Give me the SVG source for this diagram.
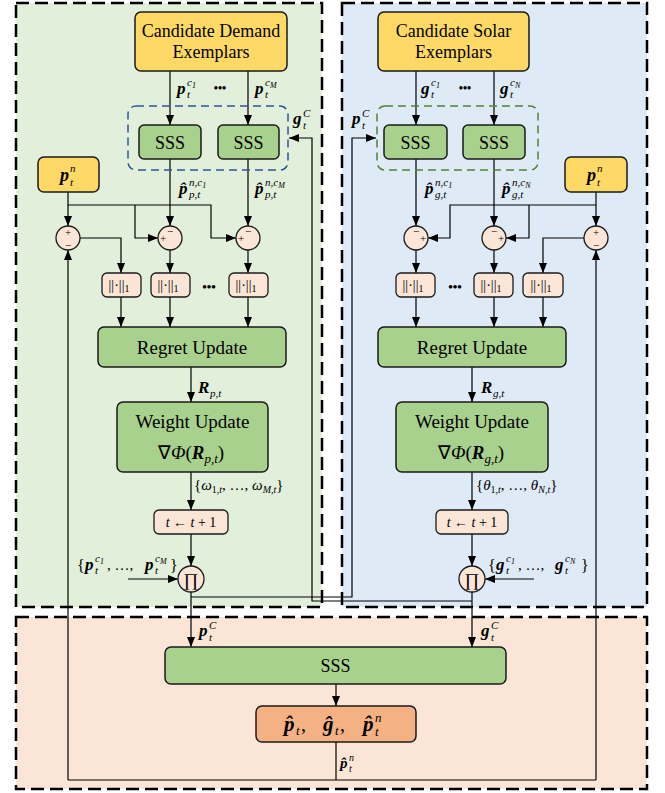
<svg xmlns="http://www.w3.org/2000/svg" width="665" height="793" viewBox="0 0 665 793" font-family="Liberation Serif, Times New Roman, serif">
<style>
text{font-family:'Liberation Serif','Times New Roman',serif;fill:#000}
.bi{font-weight:bold;font-style:italic}
.i{font-style:italic}
.pg{fill:#e2efda;stroke:#000;stroke-width:2.5;stroke-dasharray:13 6}
.pb{fill:#deeaf6;stroke:#000;stroke-width:2.5;stroke-dasharray:13 6}
.po{fill:#fbe5d6;stroke:#000;stroke-width:2.5;stroke-dasharray:13 6}
.yel{fill:#ffd966;stroke:#1a1a1a;stroke-width:1.5}
.grn{fill:#a9d18e;stroke:#1a1a1a;stroke-width:1.5}
.pch{fill:#fbe5d6;stroke:#1a1a1a;stroke-width:1.3}
.res{fill:#f4b183;stroke:#1a1a1a;stroke-width:1.5}
.dbl{fill:none;stroke:#2f5597;stroke-width:1.5;stroke-dasharray:8 5}
.dgr{fill:none;stroke:#548235;stroke-width:1.5;stroke-dasharray:8 5}
.w{fill:none;stroke:#000;stroke-width:1.2}
.wa{fill:none;stroke:#000;stroke-width:1.2;marker-end:url(#ah)}
.c{text-anchor:middle}
.sg{font-size:11px;text-anchor:middle}
</style>
<defs>
<marker id="ah" viewBox="0 0 10 8" refX="10" refY="4" markerWidth="10" markerHeight="8" markerUnits="userSpaceOnUse" orient="auto"><path d="M0,0 L10,4 L0,8 z" fill="#000"/></marker>
</defs>

<g id="panels">
<rect x="16" y="3" width="306" height="604" class="pg"/>
<rect x="342" y="3" width="305" height="604" class="pb"/>
<rect x="16" y="617" width="631" height="172" class="po"/>
</g>

<g id="connectors">
<path class="wa" d="M170,71 V125"/>
<path class="wa" d="M248,71 V125"/>
<path class="wa" d="M170,159 V226"/>
<path class="wa" d="M248,159 V226"/>
<path class="wa" d="M68,192 V226"/>
<path class="wa" d="M68,205 H211 V238 H236"/>
<path class="wa" d="M135,205 V238 H158"/>
<path class="wa" d="M80,238 H121 V273"/>
<path class="wa" d="M170,250 V273"/>
<path class="wa" d="M248,250 V273"/>
<path class="wa" d="M121,297 V327"/>
<path class="wa" d="M170,297 V327"/>
<path class="wa" d="M248,297 V327"/>
<path class="wa" d="M191,367 V402"/>
<path class="wa" d="M191,472 V510"/>
<path class="wa" d="M191,534 V566"/>
<path class="wa" d="M128,579 H178"/>
<path class="wa" d="M191,592 V647"/>
<path class="wa" d="M191,597 H352 V138 H376"/>
<path class="wa" d="M416,71 V125"/>
<path class="wa" d="M494,71 V125"/>
<path class="wa" d="M416,159 V226"/>
<path class="wa" d="M494,159 V226"/>
<path class="wa" d="M596,192 V226"/>
<path class="wa" d="M596,205 H450 V238 H428"/>
<path class="wa" d="M529,205 V238 H506"/>
<path class="wa" d="M584,238 H543 V273"/>
<path class="wa" d="M416,250 V273"/>
<path class="wa" d="M494,250 V273"/>
<path class="wa" d="M416,297 V327"/>
<path class="wa" d="M494,297 V327"/>
<path class="wa" d="M543,297 V327"/>
<path class="wa" d="M472,367 V402"/>
<path class="wa" d="M472,472 V510"/>
<path class="wa" d="M472,534 V566"/>
<path class="wa" d="M534,579 H485"/>
<path class="wa" d="M472,592 V647"/>
<path class="wa" d="M472,601 H312 V138 H289"/>
<path class="wa" d="M336,684 V706"/>
<path class="w" d="M336,742 V780 M68,780 H596"/>
<path class="wa" d="M68,780 V250"/>
<path class="wa" d="M596,780 V250"/>
</g>

<g id="cand-demand">
<rect x="135" y="12" width="152" height="59" rx="6" class="yel"/>
<text x="211" y="37" class="c" font-size="18">Candidate Demand</text>
<text x="211" y="58" class="c" font-size="18">Exemplars</text>
</g>
<g id="dash-left"><rect x="128" y="106" width="160" height="64" rx="8" class="dbl"/></g>
<g id="sss-l1"><rect x="139" y="125" width="62" height="34" rx="5" class="grn"/><text x="170" y="148.5" class="c" font-size="18">SSS</text></g>
<g id="sss-l2"><rect x="218" y="125" width="61" height="34" rx="5" class="grn"/><text x="248.5" y="148.5" class="c" font-size="18">SSS</text></g>
<g id="pn-left"><rect x="38" y="157" width="61" height="35" rx="6" class="yel"/>
<text x="60" y="181" class="bi" font-size="18">p</text><text x="70" y="172" class="i" font-size="11">n</text><text x="70" y="186" class="i" font-size="11">t</text></g>
<g id="sum-l1"><circle cx="68" cy="238" r="12" class="pch"/><text x="68" y="236" class="sg">+</text><text x="68" y="249" class="sg">−</text></g>
<g id="sum-l2"><circle cx="170" cy="238" r="12" class="pch"/><text x="170" y="235" class="sg">−</text><text x="163" y="242" class="sg">+</text></g>
<g id="sum-l3"><circle cx="248" cy="238" r="12" class="pch"/><text x="248" y="235" class="sg">−</text><text x="241" y="242" class="sg">+</text></g>
<g id="norm-l1"><rect x="102" y="273" width="39" height="24" rx="5" class="pch"/><text x="119" y="290" class="c" font-size="14">||·||<tspan font-size="10" dy="2">1</tspan></text></g>
<g id="norm-l2"><rect x="151" y="273" width="39" height="24" rx="5" class="pch"/><text x="168" y="290" class="c" font-size="14">||·||<tspan font-size="10" dy="2">1</tspan></text></g>
<g id="norm-l3"><rect x="229" y="273" width="39" height="24" rx="5" class="pch"/><text x="246" y="290" class="c" font-size="14">||·||<tspan font-size="10" dy="2">1</tspan></text></g>
<text x="209" y="291" class="c" font-size="13" font-weight="bold">•••</text>
<g id="regret-l"><rect x="98" y="327" width="188" height="40" rx="6" class="grn"/><text x="192" y="353.5" class="c" font-size="19">Regret Update</text></g>
<g id="weight-l"><rect x="117" y="402" width="151" height="70" rx="6" class="grn"/>
<text x="192.5" y="428" class="c" font-size="19">Weight Update</text>
<text x="191" y="459" class="c" font-size="19">∇<tspan class="i">Φ</tspan>(<tspan class="bi">R</tspan><tspan class="i" font-size="13" dy="4">p,t</tspan><tspan dy="-4">)</tspan></text></g>
<g id="tick-l"><rect x="154" y="510" width="74" height="24" rx="5" class="pch"/><text x="191" y="527" class="c" font-size="14"><tspan class="i">t</tspan> ← <tspan class="i">t</tspan> + 1</text></g>
<g id="prod-l"><circle cx="191" cy="579" r="13" class="pch"/><text x="191" y="586" class="c" font-size="18" fill="#444">∏</text></g>

<g id="cand-solar">
<rect x="378" y="12" width="151" height="59" rx="6" class="yel"/>
<text x="453.5" y="37" class="c" font-size="18">Candidate Solar</text>
<text x="453.5" y="58" class="c" font-size="18">Exemplars</text>
</g>
<g id="dash-right"><rect x="377" y="106" width="161" height="64" rx="8" class="dgr"/></g>
<g id="sss-r1"><rect x="384" y="125" width="63" height="34" rx="5" class="grn"/><text x="415.5" y="148.5" class="c" font-size="18">SSS</text></g>
<g id="sss-r2"><rect x="463" y="125" width="62" height="34" rx="5" class="grn"/><text x="494" y="148.5" class="c" font-size="18">SSS</text></g>
<g id="pn-right"><rect x="565" y="157" width="62" height="35" rx="6" class="yel"/>
<text x="587" y="181" class="bi" font-size="18">p</text><text x="597" y="172" class="i" font-size="11">n</text><text x="597" y="186" class="i" font-size="11">t</text></g>
<g id="sum-r1"><circle cx="416" cy="238" r="12" class="pch"/><text x="416" y="235" class="sg">−</text><text x="423" y="242" class="sg">+</text></g>
<g id="sum-r2"><circle cx="494" cy="238" r="12" class="pch"/><text x="494" y="235" class="sg">−</text><text x="501" y="242" class="sg">+</text></g>
<g id="sum-r3"><circle cx="596" cy="238" r="12" class="pch"/><text x="596" y="236" class="sg">+</text><text x="596" y="249" class="sg">−</text></g>
<g id="norm-r1"><rect x="396" y="273" width="39" height="24" rx="5" class="pch"/><text x="413" y="290" class="c" font-size="14">||·||<tspan font-size="10" dy="2">1</tspan></text></g>
<g id="norm-r2"><rect x="474" y="273" width="39" height="24" rx="5" class="pch"/><text x="491" y="290" class="c" font-size="14">||·||<tspan font-size="10" dy="2">1</tspan></text></g>
<g id="norm-r3"><rect x="523" y="273" width="40" height="24" rx="5" class="pch"/><text x="541" y="290" class="c" font-size="14">||·||<tspan font-size="10" dy="2">1</tspan></text></g>
<text x="455" y="291" class="c" font-size="13" font-weight="bold">•••</text>
<g id="regret-r"><rect x="378" y="327" width="188" height="40" rx="6" class="grn"/><text x="472" y="353.5" class="c" font-size="19">Regret Update</text></g>
<g id="weight-r"><rect x="396" y="402" width="152" height="70" rx="6" class="grn"/>
<text x="472" y="428" class="c" font-size="19">Weight Update</text>
<text x="471" y="459" class="c" font-size="19">∇<tspan class="i">Φ</tspan>(<tspan class="bi">R</tspan><tspan class="i" font-size="13" dy="4">g,t</tspan><tspan dy="-4">)</tspan></text></g>
<g id="tick-r"><rect x="436" y="510" width="72" height="24" rx="5" class="pch"/><text x="472" y="527" class="c" font-size="14"><tspan class="i">t</tspan> ← <tspan class="i">t</tspan> + 1</text></g>
<g id="prod-r"><circle cx="472" cy="579" r="13" class="pch"/><text x="472" y="586" class="c" font-size="18" fill="#444">∏</text></g>

<g id="sss-bottom"><rect x="165" y="647" width="341" height="37" rx="6" class="grn"/><text x="335.5" y="672" class="c" font-size="18">SSS</text></g>
<g id="result"><rect x="256" y="706" width="160" height="36" rx="6" class="res"/>
<text x="284" y="731" class="bi" font-size="21">p̂</text><text x="296" y="735" class="i" font-size="13">t</text><text x="301" y="731" font-size="20">,</text>
<text x="323" y="731" class="bi" font-size="21">ĝ</text><text x="335" y="735" class="i" font-size="13">t</text><text x="340" y="731" font-size="20">,</text>
<text x="363" y="731" class="bi" font-size="21">p̂</text><text x="375" y="722" class="i" font-size="13">n</text><text x="375" y="736" class="i" font-size="13">t</text></g>

<g id="labels">
<text x="177" y="94" class="bi" font-size="17">p</text><text x="187" y="86" class="i" font-size="11">c<tspan font-size="8" dy="2">1</tspan></text><text x="187" y="98" class="i" font-size="11">t</text>
<text x="220" y="92" class="c" font-size="12" font-weight="bold">•••</text>
<text x="255" y="94" class="bi" font-size="17">p</text><text x="265" y="86" class="i" font-size="11">c<tspan font-size="8" dy="2">M</tspan></text><text x="265" y="98" class="i" font-size="11">t</text>
<text x="293" y="124" class="bi" font-size="17">g</text><text x="303" y="117" class="i" font-size="11">C</text><text x="303" y="129" class="i" font-size="11">t</text>
<text x="179" y="194" class="bi" font-size="17">p̂</text><text x="189" y="186" class="i" font-size="11">n,c<tspan font-size="8" dy="2">1</tspan></text><text x="189" y="198" class="i" font-size="11">p,t</text>
<text x="255" y="194" class="bi" font-size="17">p̂</text><text x="265" y="186" class="i" font-size="11">n,c<tspan font-size="8" dy="2">M</tspan></text><text x="265" y="198" class="i" font-size="11">p,t</text>
<text x="198" y="393" class="bi" font-size="17">R</text><text x="210" y="397" class="i" font-size="11">p,t</text>
<text x="194" y="490" font-size="15">{<tspan class="i">ω</tspan><tspan font-size="10" dy="3">1,<tspan class="i">t</tspan></tspan><tspan dy="-3">, …, </tspan><tspan class="i">ω</tspan><tspan font-size="10" dy="3"><tspan class="i">M</tspan>,<tspan class="i">t</tspan></tspan><tspan dy="-3">}</tspan></text>
<text x="77" y="571" font-size="16">{</text>
<text x="85" y="570" class="bi" font-size="17">p</text><text x="95" y="562" class="i" font-size="11">c<tspan font-size="8" dy="2">1</tspan></text><text x="95" y="574" class="i" font-size="11">t</text>
<text x="107" y="570" font-size="15">, …,</text>
<text x="145" y="570" class="bi" font-size="17">p</text><text x="155" y="562" class="i" font-size="11">c<tspan font-size="8" dy="2">M</tspan></text><text x="155" y="574" class="i" font-size="11">t</text>
<text x="170" y="571" font-size="16">}</text>
<text x="199" y="636" class="bi" font-size="17">p</text><text x="209" y="629" class="i" font-size="11">C</text><text x="209" y="641" class="i" font-size="11">t</text>

<text x="421" y="94" class="bi" font-size="17">g</text><text x="431" y="86" class="i" font-size="11">c<tspan font-size="8" dy="2">1</tspan></text><text x="431" y="98" class="i" font-size="11">t</text>
<text x="465" y="92" class="c" font-size="12" font-weight="bold">•••</text>
<text x="500" y="94" class="bi" font-size="17">g</text><text x="510" y="86" class="i" font-size="11">c<tspan font-size="8" dy="2">N</tspan></text><text x="510" y="98" class="i" font-size="11">t</text>
<text x="352" y="124" class="bi" font-size="17">p</text><text x="362" y="117" class="i" font-size="11">C</text><text x="362" y="129" class="i" font-size="11">t</text>
<text x="425" y="194" class="bi" font-size="17">p̂</text><text x="435" y="186" class="i" font-size="11">n,c<tspan font-size="8" dy="2">1</tspan></text><text x="435" y="198" class="i" font-size="11">g,t</text>
<text x="502" y="194" class="bi" font-size="17">p̂</text><text x="512" y="186" class="i" font-size="11">n,c<tspan font-size="8" dy="2">N</tspan></text><text x="512" y="198" class="i" font-size="11">g,t</text>
<text x="481" y="393" class="bi" font-size="17">R</text><text x="493" y="397" class="i" font-size="11">g,t</text>
<text x="476" y="490" font-size="15">{<tspan class="i">θ</tspan><tspan font-size="10" dy="3">1,<tspan class="i">t</tspan></tspan><tspan dy="-3">, …, </tspan><tspan class="i">θ</tspan><tspan font-size="10" dy="3"><tspan class="i">N</tspan>,<tspan class="i">t</tspan></tspan><tspan dy="-3">}</tspan></text>
<text x="488" y="571" font-size="16">{</text>
<text x="496" y="570" class="bi" font-size="17">g</text><text x="506" y="562" class="i" font-size="11">c<tspan font-size="8" dy="2">1</tspan></text><text x="506" y="574" class="i" font-size="11">t</text>
<text x="518" y="570" font-size="15">, …,</text>
<text x="555" y="570" class="bi" font-size="17">g</text><text x="565" y="562" class="i" font-size="11">c<tspan font-size="8" dy="2">N</tspan></text><text x="565" y="574" class="i" font-size="11">t</text>
<text x="581" y="571" font-size="16">}</text>
<text x="481" y="636" class="bi" font-size="17">g</text><text x="491" y="629" class="i" font-size="11">C</text><text x="491" y="641" class="i" font-size="11">t</text>
<text x="340" y="768" class="bi" font-size="15">p̂</text><text x="349" y="761" class="i" font-size="10">n</text><text x="349" y="772" class="i" font-size="10">t</text>
</g>
</svg>
